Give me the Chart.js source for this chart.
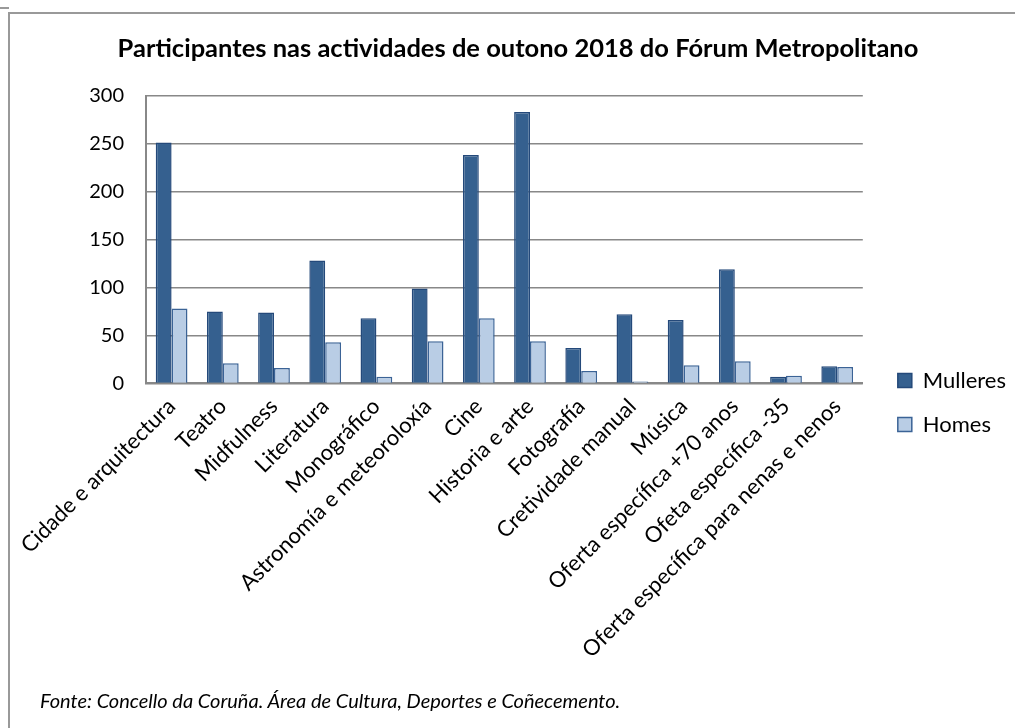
<!DOCTYPE html>
<html>
<head>
<meta charset="utf-8">
<script src="https://cdn.jsdelivr.net/npm/chart.js@4.4.0/dist/chart.umd.min.js"></script>
<style>
  html, body { margin: 0; padding: 0; background: #fff; }
  .page { position: relative; width: 1015px; height: 728px; overflow: hidden; }
  .frame { position: absolute; left: 8px; top: 12px; width: 1020px; height: 730px;
           border-left: 2px solid #999; border-top: 2px solid #999; }
  .corner { position: absolute; left: 0; top: 7px; width: 9px; height: 2px; background: #999; }
  canvas { position: absolute; left: 0; top: 0; }
  .note { position: absolute; left: 40px; top: 688px; font-family: Lato, sans-serif;
          font-style: italic; font-size: 20px; color: #000; }
</style>
</head>
<body>
<div class="page">
  <div class="corner"></div>
  <div class="frame"></div>
  <canvas id="participantsChart" width="1015" height="728"></canvas>
  <div class="note">Fonte: Concello da Coruña. Área de Cultura, Deportes e Coñecemento.</div>
</div>
<script>
const categories = ["Cidade e arquitectura", "Teatro", "Midfulness", "Literatura", "Monográfico",
  "Astronomía e meteoroloxía", "Cine", "Historia e arte", "Fotografía", "Cretividade manual",
  "Música", "Oferta específica +70 anos", "Ofeta específica -35", "Oferta específica para nenas e nenos"];
const mulleres = [251, 75, 74, 128, 68, 99, 238, 283, 37, 72, 66, 119, 7, 18];
const homes = [78, 21, 16, 43, 7, 44, 68, 44, 13, 2, 19, 23, 8, 17];
const yTicks = [0, 50, 100, 150, 200, 250, 300];

const font = "Lato, 'Noto Sans', sans-serif";

// move the legend a little, Excel puts it lower and closer to the edge
const legendNudge = {
  id: "legendNudge",
  afterLayout(chart) {
    const lg = chart.legend;
    lg.left += 13; lg.right += 13;
    lg.top += 70; lg.bottom += 70;
  }
};

const ctx = document.getElementById("participantsChart").getContext("2d");
new Chart(ctx, {
  type: "bar",
  data: {
    labels: categories,
    datasets: [{
      label: "Mulleres",
      data: mulleres,
      backgroundColor: "#35608f",
      borderColor: "#24497a",
      borderWidth: 1.5
    }, {
      label: "Homes",
      data: homes,
      backgroundColor: "#b9cde5",
      borderColor: "#3b6396",
      borderWidth: 1.5
    }]
  },
  plugins: [legendNudge],
  options: {
    responsive: false,
    animation: false,
    layout: { padding: { left: 33, right: 12, top: 0, bottom: 63 } },
    datasets: { bar: { categoryPercentage: 0.62, barPercentage: 1 } },
    plugins: {
      title: {
        display: true,
        text: "Participantes nas actividades de outono 2018 do Fórum Metropolitano",
        color: "#000",
        font: { family: font, size: 25.5, weight: "bold" },
        padding: { top: 33, bottom: 32 }
      },
      legend: {
        position: "right",
        labels: {
          color: "#000",
          font: { family: font, size: 22 },
          boxWidth: 14,
          boxHeight: 14,
          padding: 22
        }
      },
      tooltip: { enabled: false }
    },
    scales: {
      x: {
        grid: { display: false },
        border: { display: true, color: "#888", width: 2 },
        ticks: {
          color: "#000",
          font: { family: font, size: 22 },
          autoSkip: false,
          maxRotation: 45,
          minRotation: 45,
          padding: 2
        }
      },
      y: {
        min: 0,
        max: 300,
        afterBuildTicks: (axis) => { axis.ticks = yTicks.map(v => ({ value: v })); },
        afterFit: (axis) => { axis.width = 113; },
        grid: { color: "#888", lineWidth: 1.5, drawTicks: false },
        border: { display: true, color: "#888", width: 2 },
        ticks: {
          color: "#000",
          font: { family: font, size: 20 },
          padding: 22
        }
      }
    }
  }
});
</script>
</body>
</html>
